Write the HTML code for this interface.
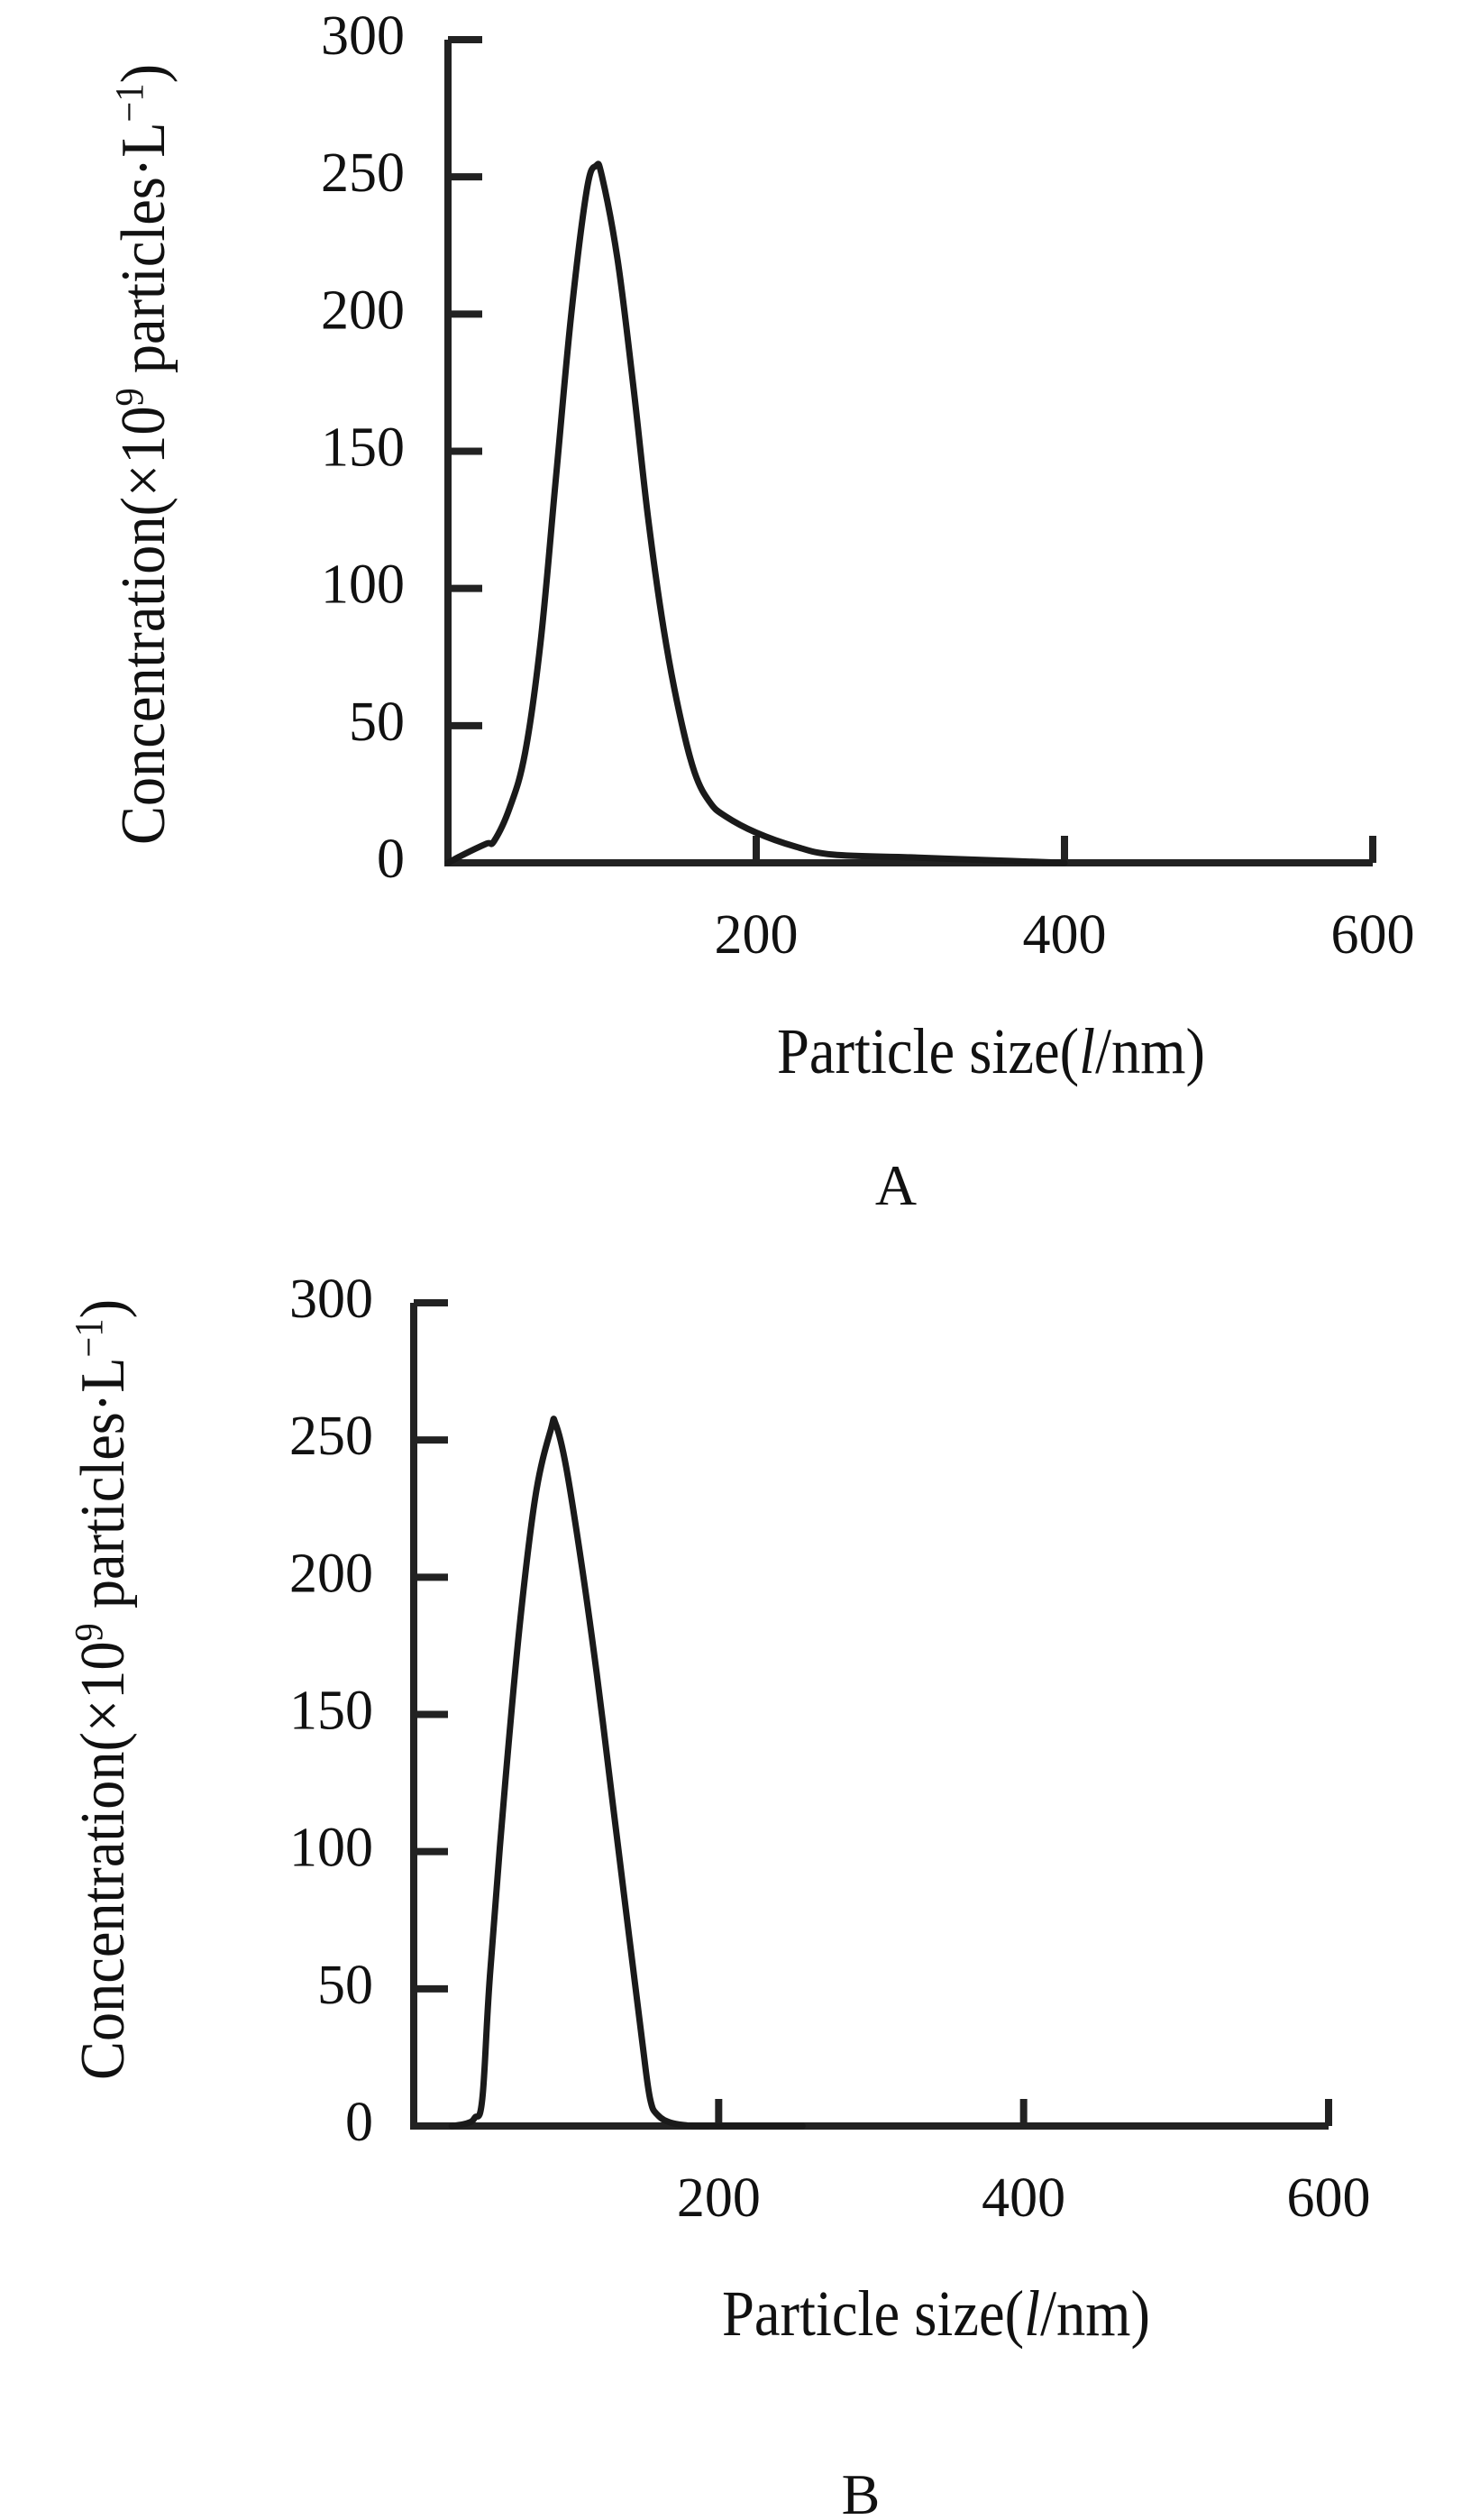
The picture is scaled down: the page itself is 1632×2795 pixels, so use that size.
<!DOCTYPE html>
<html><head><meta charset="utf-8"><style>
html,body{margin:0;padding:0;background:#fff;}
svg{display:block;font-family:"Liberation Serif",serif;}
</style></head><body>
<svg id="fig" width="1632" height="2795" viewBox="0 0 1632 2795"></svg>
<script>
const xTicks=[200,400,600];
const yTicks=[0,50,100,150,200,250,300];
const sizesA=[0,10,25,30,40,50,60,70,80,90,96,100,110,120,130,140,150,160,170,180,200,225,250,300,350,400];
const concA=[0,3,7,8,20,40,80,140,200,245,254,250,220,175,125,85,55,33,22,17,11,6,3,2,1,0];
const sizesB=[25,35,40,45,50,60,70,80,90,93,100,110,120,130,140,150,155,160,170,185,200,255];
const concB=[0,1,3,10,55,125,185,230,254,256,240,205,165,120,75,30,10,4,1,0,0,0];

const NS="http://www.w3.org/2000/svg";
const svg=document.getElementById('fig');
function mk(tag,attrs,parent){const e=document.createElementNS(NS,tag);for(const k in attrs)e.setAttribute(k,attrs[k]);(parent||svg).appendChild(e);return e;}
function smoothPath(p){
  let d=`M${p[0][0].toFixed(1)} ${p[0][1].toFixed(1)}`;
  for(let i=0;i<p.length-1;i++){
    const p0=p[i-1]||p[i],p1=p[i],p2=p[i+1],p3=p[i+2]||p2,t=0.18;
    const c1=[p1[0]+(p2[0]-p0[0])*t,p1[1]+(p2[1]-p0[1])*t];
    const c2=[p2[0]-(p3[0]-p1[0])*t,p2[1]-(p3[1]-p1[1])*t];
    d+=` C${c1[0].toFixed(1)} ${c1[1].toFixed(1)} ${c2[0].toFixed(1)} ${c2[1].toFixed(1)} ${p2[0].toFixed(1)} ${p2[1].toFixed(1)}`;
  }
  return d;
}

function panel(cfg){
  const g=mk('g',{});
  
  
  const sx=v=>cfg.x0+(v-0)*cfg.pxPerNm;
  const sy=v=>cfg.y0-v*cfg.pxPerUnit;
  const top=sy(300), right=sx(600);
  const ax=mk('path',{d:`M${cfg.x0} ${top} V${cfg.y0} H${right}`,fill:'none',stroke:'#222','stroke-width':8,'stroke-linejoin':'miter'},g);
  
  
  yTicks.forEach(v=>{
    if(v>0){const t=mk('line',{x1:cfg.x0,x2:cfg.x0+38,y1:sy(v),y2:sy(v),stroke:'#222','stroke-width':8},g);
    
    }
    const l=mk('text',{x:cfg.x0-cfg.ylabGap,y:sy(v)+16,'font-size':62,'text-anchor':'end',fill:'#111'},g);
    l.textContent=v;
    
    
  });
  xTicks.forEach(v=>{
    const t=mk('line',{x1:sx(v),x2:sx(v),y1:cfg.y0,y2:cfg.y0-30,stroke:'#222','stroke-width':8},g);
    
    
    const l=mk('text',{x:sx(v),y:cfg.y0+100,'font-size':62,'text-anchor':'middle',fill:'#111'},g);
    l.textContent=v;
    
    
  });
  const pts=cfg.xs.map((x,i)=>[sx(x),sy(cfg.ys[i])]);
  const line=mk('path',{d:smoothPath(pts),fill:'none',stroke:'#1a1a1a','stroke-width':7,'stroke-linejoin':'round','stroke-linecap':'round'},g);
  
  
  const xt=mk('text',{x:cfg.xtX,y:cfg.xtY,'font-size':72,textLength:475,lengthAdjust:'spacingAndGlyphs',fill:'#111'},g);
  xt.innerHTML='Particle size(<tspan font-style="italic">l</tspan>/nm)';
  
  
  const yt=mk('text',{x:0,y:0,'font-size':70,textLength:866,lengthAdjust:'spacingAndGlyphs','text-anchor':'middle',fill:'#111',transform:`translate(${cfg.ytX},${cfg.ytY}) rotate(-90)`},g);
  yt.innerHTML='Concentration(×10<tspan dy="-24" font-size="44">9</tspan><tspan dy="24"> particles·L</tspan><tspan dy="-24" font-size="44">−1</tspan><tspan dy="24">)</tspan>';
  
  
  const cap=mk('text',{x:cfg.capX,y:cfg.capY,'font-size':64,'text-anchor':'middle',fill:'#111'},g);
  cap.textContent=cfg.cap;
  
  
}
panel({name:'chart-a',x0:497,y0:957,pxPerNm:(1523-497)/600,pxPerUnit:(957-44)/300,ylabGap:48,
  xs:sizesA,ys:concA,xtX:862,xtY:1190,ytX:182,ytY:504,capX:994,capY:1336,cap:'A'});
panel({name:'chart-b',x0:459,y0:2358,pxPerNm:(1479-464)/600,pxPerUnit:(2358-1445)/300,ylabGap:45,
  xs:sizesB,ys:concB,xtX:801,xtY:2590,ytX:137,ytY:1874,capX:955,capY:2788,cap:'B'});
</script>
</body></html>
